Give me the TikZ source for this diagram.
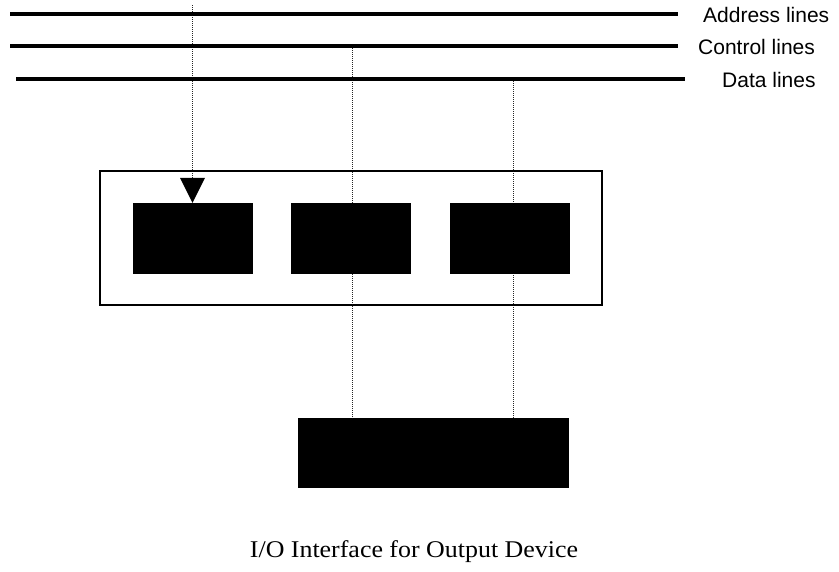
\documentclass[tikz,border=0pt]{standalone}
\usepackage{fontspec}
\setmainfont{Liberation Serif}
\newfontfamily\labfont{Liberation Sans}
\newfontfamily\capfont[FakeStretch=1.08]{Liberation Serif}
\usetikzlibrary{arrows.meta,backgrounds}
\begin{document}
\begin{tikzpicture}[x=1pt,y=-1pt,
  bus/.style={line width=4.2pt},
  blk/.style={draw=black,fill=black,minimum width=119pt,minimum height=70pt,inner sep=0pt},
  frame/.style={draw=black,line width=1.3pt,minimum width=502pt,minimum height=134pt,inner sep=0pt},
  dots/.style={dash pattern=on 0.8pt off 1.2pt,line width=0.9pt,black!85},
  lab/.style={font=\labfont\fontsize{21}{21}\selectfont,inner sep=0pt,anchor=west},
  captext/.style={font=\capfont\fontsize{24}{24}\selectfont,inner sep=0pt}]
\useasboundingbox (0,0) rectangle (839,571);
% buses
\coordinate (a1) at (10,14); \coordinate (a2) at (678,14);
\coordinate (c1) at (10,46); \coordinate (c2) at (678,46);
\coordinate (d1) at (16,79); \coordinate (d2) at (685,79);
\draw[bus] (a1) -- (a2);
\draw[bus] (c1) -- (c2);
\draw[bus] (d1) -- (d2);
\node[lab] (la) at (703,15) {Address lines};
\node[lab] (lc) at (698,47) {Control lines};
\node[lab] (ld) at (722,80) {Data lines};
% interface
\node[frame] (frm) at (351,238) {};
\node[blk] (b1) at (192.5,238) {};
\node[blk] (b2) at (351,238) {};
\node[blk] (b3) at (510,238) {};
\node[blk,minimum width=270pt,minimum height=69pt] (dev) at (433,452.5) {};
% dotted connectors
\coordinate (s1) at (192.5,5);
\coordinate (s2) at (352,44);
\coordinate (s3) at (513,77);
\begin{scope}[on background layer]
\draw[dots,-{Triangle[width=25pt,length=25pt,fill=black,line width=0pt]}] (s1) -- (b1.north);
\draw[dots] (s2) -- (s2 |- dev.north);
\draw[dots] (s3) -- (s3 |- dev.north);
\end{scope}
\node[captext] (cp) at (414,552) {I/O Interface for Output Device};
\end{tikzpicture}
\end{document}
